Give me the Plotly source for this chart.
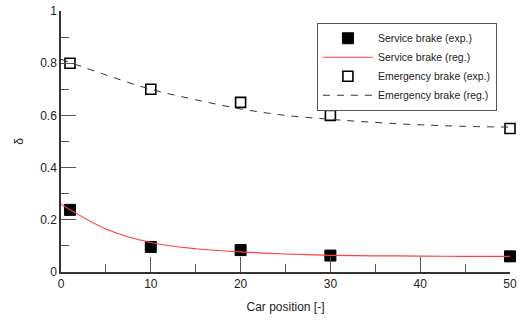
import plotly.graph_objects as go

car_pos = [1, 10, 20, 30, 50]
service_exp = [0.238, 0.096, 0.084, 0.063, 0.060]
emergency_exp = [0.80, 0.70, 0.65, 0.60, 0.55]

reg_x = [0, 5, 10, 15, 20, 25, 30, 35, 40, 45, 50]
service_reg = [0.26, 0.165, 0.113, 0.089, 0.077, 0.069, 0.064, 0.062, 0.061, 0.060, 0.060]
emergency_reg = [0.815, 0.755, 0.70, 0.66, 0.625, 0.60, 0.585, 0.573, 0.564, 0.558, 0.555]

x_ticks = [0, 10, 20, 30, 40, 50]
y_ticks = [0, 0.2, 0.4, 0.6, 0.8, 1]
y_tick_text = ["0", "0.2", "0.4", "0.6", "0.8", "1"]

font_family = "Liberation Sans, Arial, sans-serif"

fig = go.Figure()
fig.add_trace(go.Scatter(
    x=car_pos, y=service_exp, mode="markers", name="Service brake (exp.)", cliponaxis=False,
    marker=dict(symbol="square", size=11, color="black", line=dict(color="black", width=1)),
))
fig.add_trace(go.Scatter(
    x=reg_x, y=service_reg, mode="lines", name="Service brake (reg.)",
    line=dict(color="#ff4040", width=1.2, shape="spline"),
))
fig.add_trace(go.Scatter(
    x=car_pos, y=emergency_exp, mode="markers", name="Emergency brake (exp.)", cliponaxis=False,
    marker=dict(symbol="square", size=10, color="white", line=dict(color="black", width=1.6)),
))
fig.add_trace(go.Scatter(
    x=reg_x, y=emergency_reg, mode="lines", name="Emergency brake (reg.)",
    line=dict(color="#333333", width=1, dash="7px,7px", shape="spline"),
))

fig.update_layout(
    width=525, height=322,
    margin=dict(l=61, r=15, t=11, b=50, autoexpand=False),
    paper_bgcolor="white", plot_bgcolor="white",
    font=dict(family=font_family, size=12, color="#222222"),
    showlegend=True,
    legend=dict(
        x=0.57, y=0.955, xanchor="left", yanchor="top",
        bordercolor="#555555", borderwidth=1, bgcolor="white",
        font=dict(size=10.5, color="#222222"),
        tracegroupgap=0, itemwidth=50,
    ),
    xaxis=dict(
        range=[0, 50], tickvals=x_ticks, ticks="inside", ticklen=15, tickwidth=1,
        tickcolor="#555555", showline=True, linecolor="#333333", linewidth=1.5,
        showgrid=False, zeroline=False, mirror=False, automargin=False,
        minor=dict(dtick=5, ticks="inside", ticklen=8, tickcolor="#555555", tickwidth=1),
        title=dict(text="Car position [-]", font=dict(size=12), standoff=12),
        tickfont=dict(size=12),
    ),
    yaxis=dict(
        range=[0, 1], tickvals=y_ticks, ticktext=y_tick_text, ticks="inside", ticklen=15, tickwidth=1,
        tickcolor="#555555", showline=True, linecolor="#333333", linewidth=1.5,
        showgrid=False, zeroline=False, automargin=False,
        minor=dict(dtick=0.1, ticks="inside", ticklen=8, tickcolor="#555555", tickwidth=1),
        title=dict(text="δ", font=dict(size=12), standoff=14),
        tickfont=dict(size=12),
    ),
)

fig.write_html("out.html", config={"displayModeBar": False},
               post_script="document.body.style.margin='0px';")
